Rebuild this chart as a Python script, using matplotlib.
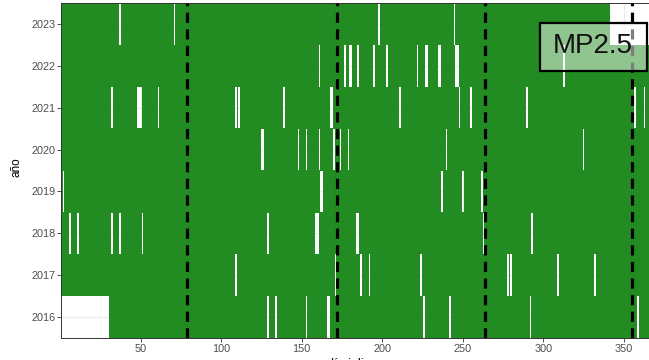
import matplotlib
matplotlib.use("Agg")
import matplotlib.pyplot as plt
from matplotlib.patches import Rectangle

# ---- data ----
years = [2016, 2017, 2018, 2019, 2020, 2021, 2022, 2023]
# missing-data gaps per year as (first_day, last_day)
gaps_2016 = [(1, 30), (129, 129), (134, 134), (153, 153), (166, 167), (226, 226),
             (242, 242), (292, 292), (359, 359)]
gaps_2017 = [(109, 109), (171, 171), (187, 187), (192, 192), (224, 224), (278, 278),
             (280, 280), (309, 309), (332, 332)]
gaps_2018 = [(6, 6), (11, 11), (32, 32), (37, 37), (51, 51), (129, 129), (159, 160),
             (184, 185), (263, 263), (293, 293)]
gaps_2019 = [(2, 2), (162, 163), (237, 237), (250, 250), (262, 262)]
gaps_2020 = [(125, 126), (148, 148), (153, 153), (161, 161), (170, 170), (174, 174),
             (179, 179), (240, 240), (325, 325)]
gaps_2021 = [(32, 32), (48, 50), (61, 61), (109, 109), (111, 111), (139, 139), (168, 169),
             (211, 211), (248, 248), (255, 255), (290, 290), (357, 357), (363, 363)]
gaps_2022 = [(161, 161), (177, 177), (180, 181), (185, 185), (195, 195), (203, 203),
             (222, 222), (227, 228), (235, 236), (246, 247), (313, 313)]
gaps_2023 = [(37, 37), (71, 71), (198, 198), (245, 245), (342, 366)]
gaps = {2016: gaps_2016, 2017: gaps_2017, 2018: gaps_2018, 2019: gaps_2019,
        2020: gaps_2020, 2021: gaps_2021, 2022: gaps_2022, 2023: gaps_2023}

season_days = [79, 172, 264, 355]
x_ticks = [50, 100, 150, 200, 250, 300, 350]
panel_label = "MP2.5"
x_title = "día juliano"
y_title = "año"

GREEN = "#228B22"
FONT = "Liberation Sans"

W, H = 649, 360
fig = plt.figure(figsize=(W / 100, H / 100), dpi=100)
ax = fig.add_axes([61 / W, 22 / H, 589.3 / W, 335 / H])
ax.set_facecolor("white")


def present_runs(year, gap_list):
    ndays = 366 if year % 4 == 0 else 365
    runs = []
    start = 1
    for a, b in sorted(gap_list):
        if a > start:
            runs.append((start - 0.5, a - start))
        start = max(start, b + 1)
    if start <= ndays:
        runs.append((start - 0.5, ndays - start + 1))
    return runs


for yr in years:
    ax.broken_barh(present_runs(yr, gaps[yr]), (yr - 0.505, 1.01),
                   facecolors=GREEN, linewidth=0, zorder=2)

for d in season_days:
    ax.axvline(d, color="black", lw=2.3, linestyle=(0, (3.2, 2.0)), zorder=3)

# label box
ax.add_patch(Rectangle((297.8, 2021.88), 66.7, 1.15, facecolor=(1, 1, 1, 0.5),
                       edgecolor="black", lw=1.6, zorder=4))
ax.text(330.5, 2022.31, panel_label, fontsize=20, family=FONT, ha="center",
        va="baseline", color="#111111", zorder=5)

ax.set_xlim(0.5, 366.5)
ax.set_ylim(2015.5, 2023.5)
ax.set_xticks(x_ticks)
ax.set_xticks([25, 75, 125, 175, 225, 275, 325], minor=True)
ax.set_yticks(years)
ax.set_yticklabels([str(y) for y in years])
ax.set_axisbelow(True)
ax.grid(True, which="major", color="#EBEBEB", lw=0.8, zorder=0)
ax.grid(True, which="minor", axis="x", color="#F2F2F2", lw=0.5, zorder=0)
ax.tick_params(which="major", length=2.6, width=0.6, color="#333333",
               labelcolor="#4D4D4D", labelsize=7.8, pad=1.5)
ax.tick_params(which="minor", length=0)
for lab in ax.get_xticklabels() + ax.get_yticklabels():
    lab.set_family(FONT)
for s in ax.spines.values():
    s.set_color("#333333")
    s.set_linewidth(0.7)

fig.text(16 / W, 1 - 167 / H, y_title, rotation=90, ha="center", va="center",
         fontsize=8.5, family=FONT, color="black")
fig.text(355.5 / W, 2.5 / H, x_title, ha="center", va="top",
         fontsize=9, family=FONT, color="black")

fig.savefig("out.png", dpi=100)
